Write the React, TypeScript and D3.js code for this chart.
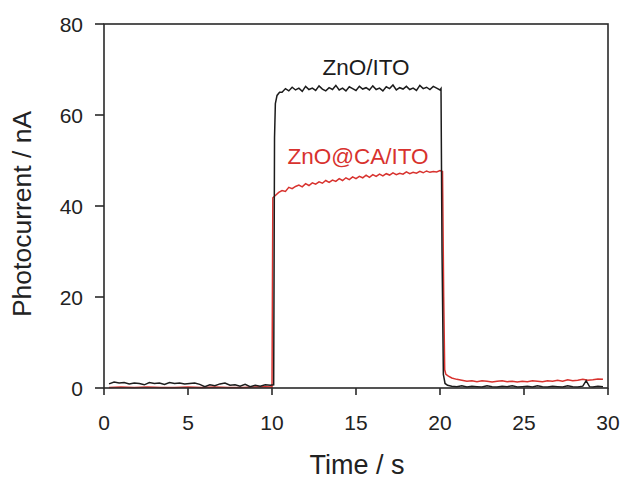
import React from "react";
import * as d3 from "d3";

// ZnO/ITO photocurrent (time s, current nA)
const znoTime = [
  0.3, 0.6, 0.9, 1.2, 1.5, 1.8, 2.1, 2.4, 2.7, 3.0, 3.3, 3.6, 3.9, 4.2, 4.5, 4.8, 5.1, 5.4, 5.7, 6.0,
  6.3, 6.6, 6.9, 7.2, 7.5, 7.8, 8.1, 8.4, 8.7, 9.0, 9.3, 9.6, 9.9, 10.1,
  10.15, 10.2, 10.3, 10.45,
  10.6, 10.8, 11.0, 11.2, 11.4, 11.6, 11.8, 12.0, 12.2, 12.4, 12.6, 12.8, 13.0, 13.2, 13.4, 13.6,
  13.8, 14.0, 14.2, 14.4, 14.6, 14.8, 15.0, 15.2, 15.4, 15.6, 15.8, 16.0, 16.2, 16.4, 16.6, 16.8,
  17.0, 17.2, 17.4, 17.6, 17.8, 18.0, 18.2, 18.4, 18.6, 18.8, 19.0, 19.2, 19.4, 19.6, 19.8, 20.0,
  20.06, 20.12, 20.2, 20.3, 20.45,
  20.7, 21.0, 21.3, 21.6, 21.9, 22.2, 22.5, 22.8, 23.1, 23.4, 23.7, 24.0, 24.3, 24.6, 24.9, 25.2,
  25.5, 25.8, 26.1, 26.4, 26.7, 27.0, 27.3, 27.6, 27.9, 28.2, 28.5, 28.7, 28.9, 29.1, 29.4, 29.7
];
const znoCurrent = [
  0.9, 1.3, 1.1, 1.2, 0.9, 1.1, 1.0, 0.7, 1.2, 1.0, 1.1, 0.8, 1.2, 1.0, 1.1, 0.9, 1.0, 1.1, 0.8, 0.3,
  0.7, 0.5, 0.9, 1.1, 0.6, 0.7, 0.4, 0.8, 0.3, 0.6, 0.4, 0.7, 0.6, 0.7,
  55.0, 62.5, 64.3, 65.0,
  65.0, 65.8, 65.3, 66.1, 65.5, 65.9, 65.2, 66.3, 65.6, 65.9, 65.4, 66.4, 65.7, 65.3, 66.0, 65.6,
  66.5, 65.5, 65.9, 65.3, 66.2, 65.8, 65.4, 66.3, 65.7, 66.0, 65.5, 66.4, 65.6, 65.9, 65.3, 66.2,
  65.8, 66.6, 65.5, 66.0, 65.7, 66.3, 65.6, 65.9, 65.4, 66.5, 65.8, 66.1, 65.6, 66.3, 65.9, 65.5,
  65.8, 30.0, 3.0, 1.0, 0.6,
  0.4, 0.3, 0.5, 0.2, 0.4, 0.3, 0.2, 0.5, 0.3, 0.2, 0.4, 0.3, 0.5, 0.2, 0.3, 0.4,
  0.2, 0.5, 0.3, 0.2, 0.4, 0.3, 0.2, 0.5, 0.3, 0.2, 0.4, 1.6, 0.3, 0.2, 0.4, 0.3
];

// ZnO@CA/ITO photocurrent (time s, current nA)
const zncaTime = [
  0.3, 1.0, 1.8, 2.6, 3.4, 4.2, 5.0, 5.8, 6.6, 7.4, 8.2, 9.0, 9.6, 10.0,
  10.05, 10.2, 10.4, 10.6, 10.8, 11.0, 11.2, 11.4, 11.6, 11.8, 12.0, 12.2, 12.4, 12.6, 12.8, 13.0,
  13.2, 13.4, 13.6, 13.8, 14.0, 14.2, 14.4, 14.6, 14.8, 15.0, 15.2, 15.4, 15.6, 15.8, 16.0, 16.2,
  16.4, 16.6, 16.8, 17.0, 17.2, 17.4, 17.6, 17.8, 18.0, 18.2, 18.4, 18.6, 18.8, 19.0, 19.2, 19.4,
  19.6, 19.8, 20.0, 20.15,
  20.22, 20.28, 20.35, 20.5, 20.7, 21.0,
  21.3, 21.6, 21.9, 22.2, 22.5, 22.8, 23.1, 23.4, 23.7, 24.0, 24.3, 24.6, 24.9, 25.2, 25.5, 25.8,
  26.1, 26.4, 26.7, 27.0, 27.3, 27.6, 27.9, 28.2, 28.5, 28.8, 29.1, 29.4, 29.7
];
const zncaCurrent = [
  0.1, 0.2, 0.1, 0.2, 0.1, 0.1, 0.2, 0.1, 0.2, 0.1, 0.1, 0.2, 0.3, 0.2,
  41.8, 42.3, 43.0, 43.4, 43.2, 44.1, 43.8, 44.3, 44.6, 44.2, 44.9, 44.5, 45.1, 44.8, 45.3, 45.0,
  45.6, 45.2, 45.7, 45.4, 46.0, 45.6, 46.2, 45.8, 46.4, 46.0, 46.5, 46.2, 46.8, 46.3, 46.9, 46.5,
  47.0, 46.6, 47.1, 46.8, 47.3, 46.9, 47.2, 47.0, 47.5, 47.1, 47.4, 47.2, 47.6, 47.3, 47.7, 47.4,
  47.6, 47.5, 47.8, 47.6,
  20.0, 4.0, 3.0, 2.6, 2.2, 1.9,
  1.7, 1.5, 1.6, 1.4, 1.6, 1.5, 1.3, 1.5, 1.6, 1.4, 1.5, 1.3, 1.5, 1.4, 1.6, 1.5,
  1.4, 1.6, 1.5, 1.7, 1.5, 1.8, 1.6, 1.7, 1.9, 1.7, 1.8, 2.0, 1.9
];

const xTicks = [0, 5, 10, 15, 20, 25, 30];
const yTicks = [0, 20, 40, 60, 80];

const W = 627;
const H = 479;
const M = { left: 104, top: 24, right: 19, bottom: 91 };

export default function App() {
  const x = d3.scaleLinear().domain([0, 30]).range([M.left, W - M.right]);
  const y = d3.scaleLinear().domain([0, 80]).range([H - M.bottom, M.top]);
  const line = d3
    .line<[number, number]>()
    .x((d) => x(d[0]))
    .y((d) => y(d[1]));
  const zno = znoTime.map((t, i) => [t, znoCurrent[i]] as [number, number]);
  const znca = zncaTime.map((t, i) => [t, zncaCurrent[i]] as [number, number]);
  const font = "'Liberation Sans', Arial, sans-serif";
  const axisColor = "#2a2a2a";

  return (
    <svg
      width={W}
      height={H}
      style={{ position: "absolute", left: 0, top: 0, background: "#fff" }}
      fontFamily={font}
    >
      <path d={line(znca) || ""} fill="none" stroke="#d8322e" strokeWidth={1.5} />
      <path d={line(zno) || ""} fill="none" stroke="#1c1c1c" strokeWidth={1.5} />
      <rect
        x={x(0)}
        y={y(80)}
        width={x(30) - x(0)}
        height={y(0) - y(80)}
        fill="none"
        stroke={axisColor}
        strokeWidth={1.6}
      />
      {xTicks.map((t) => (
        <g key={"x" + t}>
          <line x1={x(t)} x2={x(t)} y1={y(0)} y2={y(0) + 7} stroke={axisColor} strokeWidth={1.6} />
          <text x={x(t)} y={y(0) + 42} textAnchor="middle" fontSize={21} fill="#222">
            {t}
          </text>
        </g>
      ))}
      {yTicks.map((t) => (
        <g key={"y" + t}>
          <line x1={x(0) - 9} x2={x(0)} y1={y(t)} y2={y(t)} stroke={axisColor} strokeWidth={1.6} />
          <text x={x(0) - 21} y={y(t) + 7.5} textAnchor="end" fontSize={21} fill="#222">
            {t}
          </text>
        </g>
      ))}
      <text x={357} y={474} textAnchor="middle" fontSize={27} fill="#222">
        Time / s
      </text>
      <text
        transform={`translate(31, 214) rotate(-90)`}
        textAnchor="middle"
        fontSize={26.5}
        fill="#222"
      >
        Photocurrent / nA
      </text>
      <text x={366} y={75} textAnchor="middle" fontSize={22.5} fill="#1c1c1c">
        ZnO/ITO
      </text>
      <text x={358} y={164} textAnchor="middle" fontSize={22.5} fill="#d8322e">
        ZnO@CA/ITO
      </text>
    </svg>
  );
}
